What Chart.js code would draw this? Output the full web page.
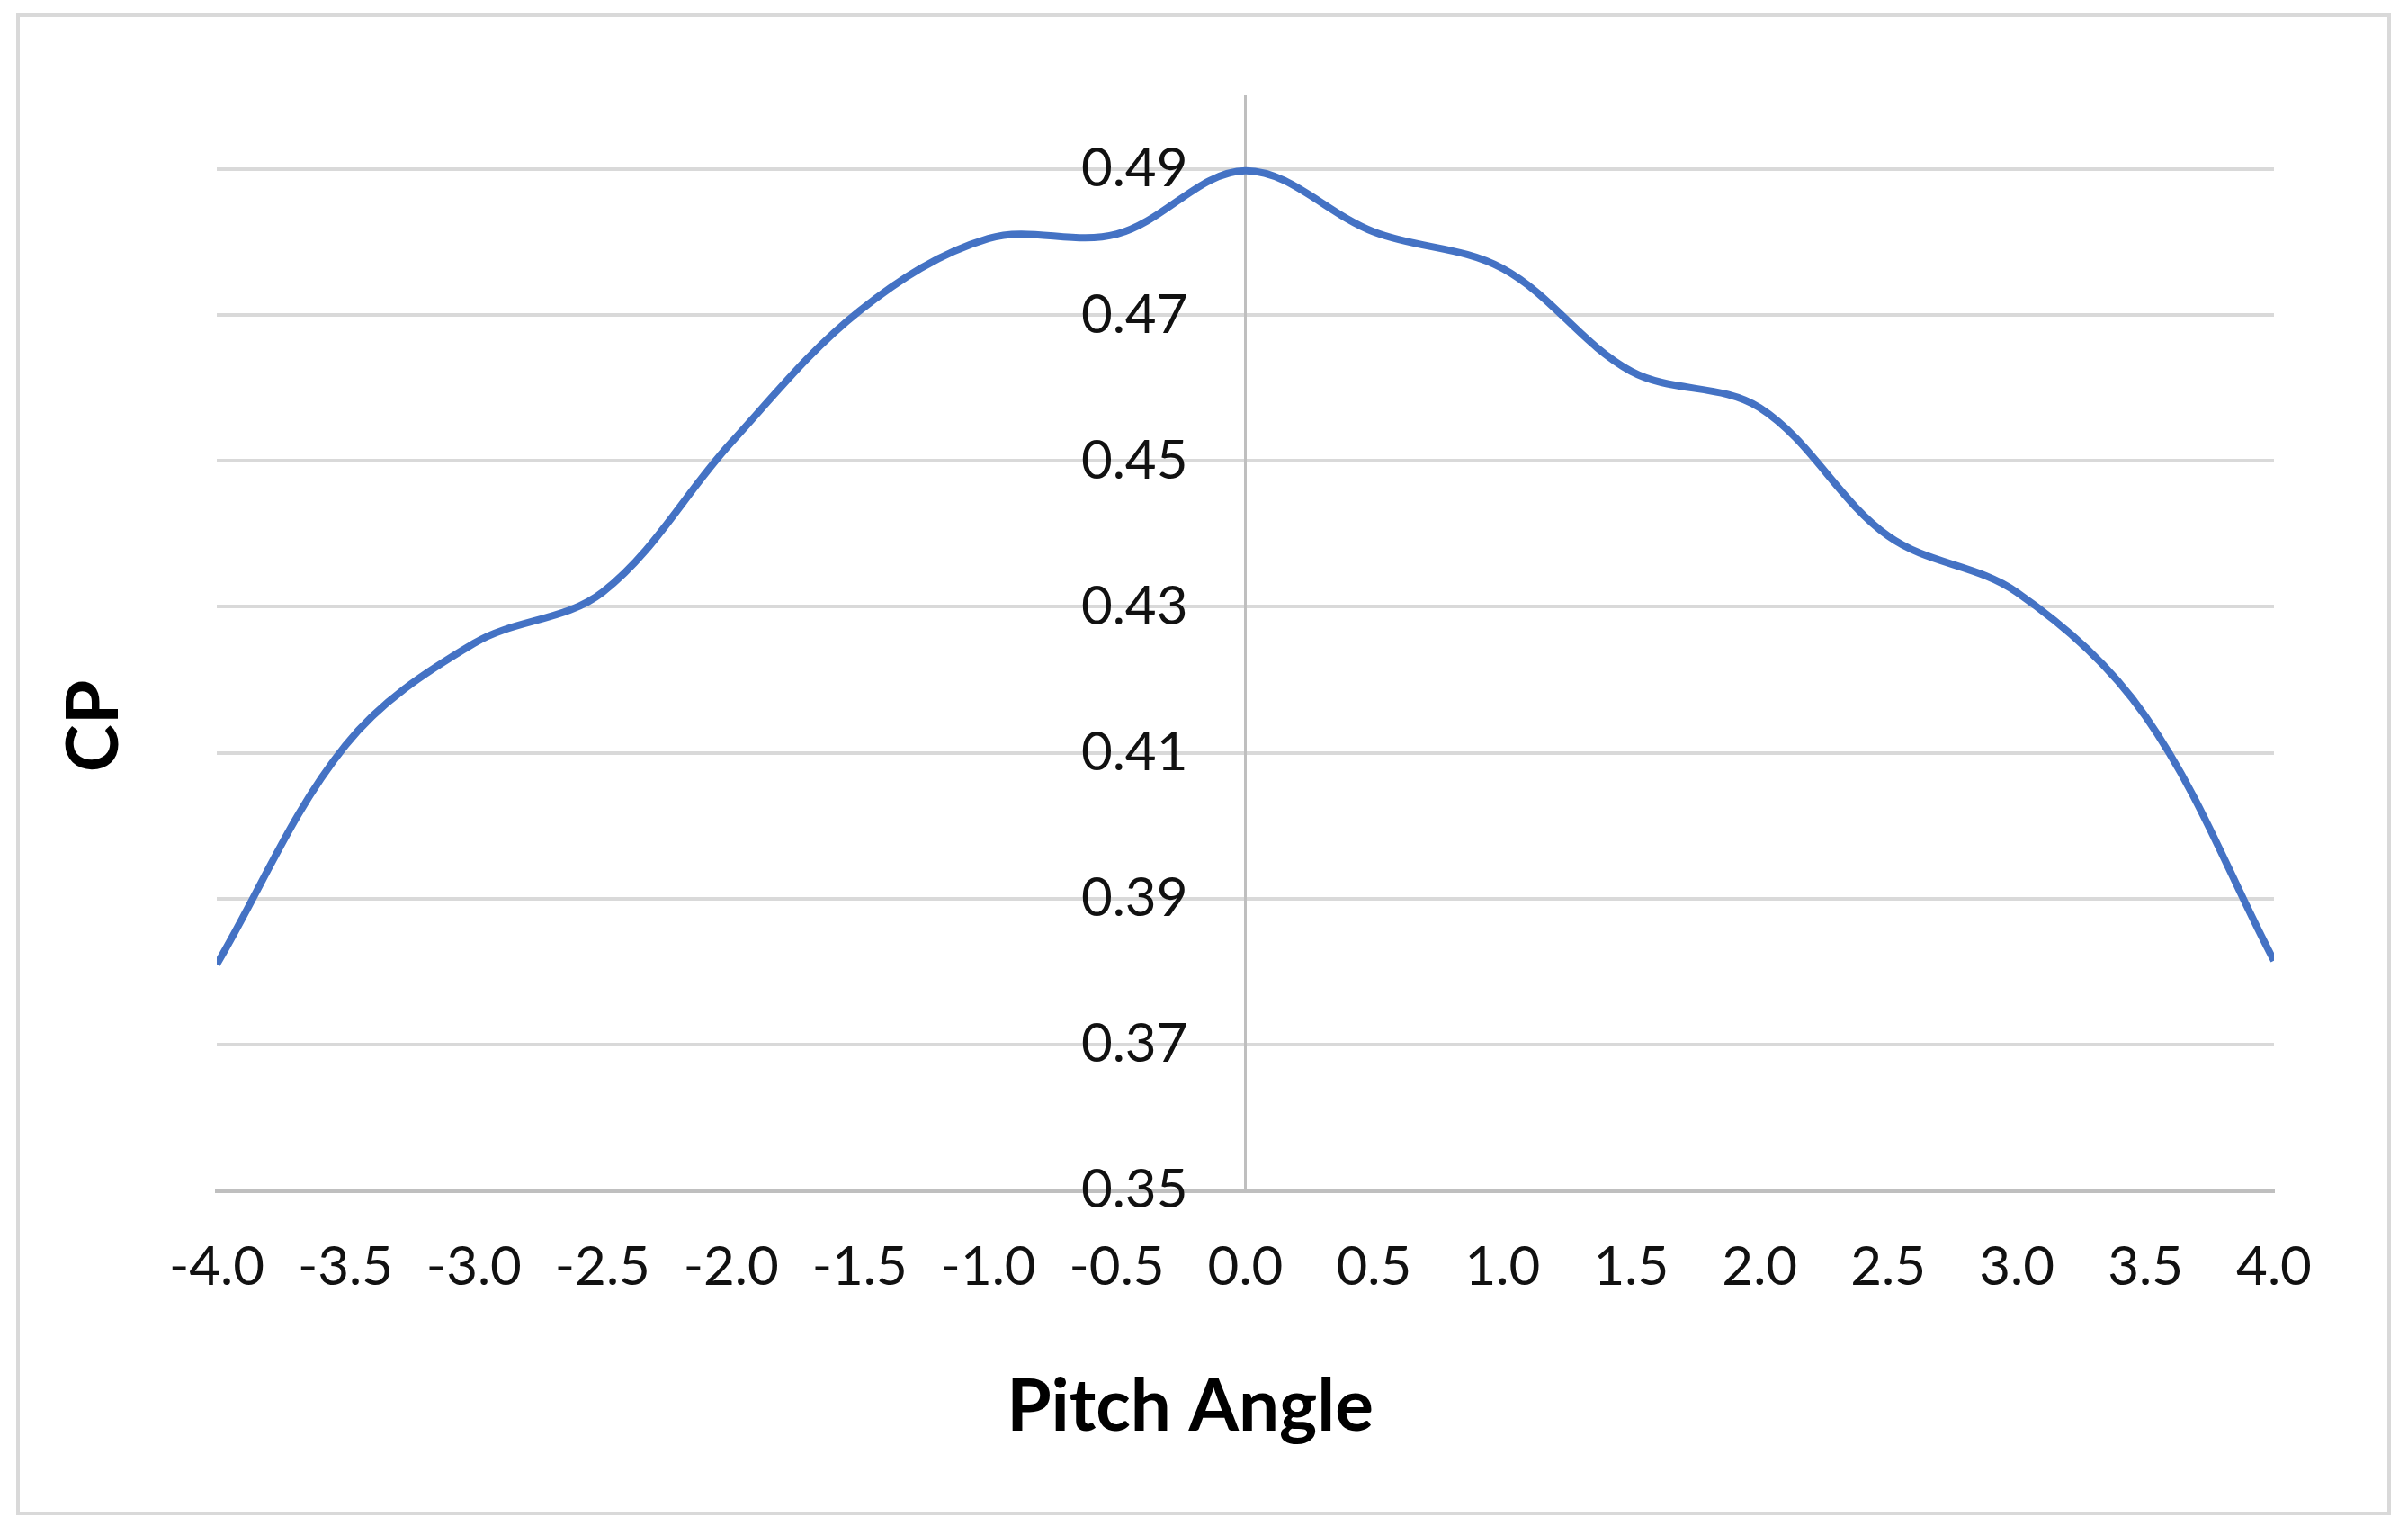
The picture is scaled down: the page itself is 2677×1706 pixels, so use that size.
<!DOCTYPE html>
<html>
<head>
<meta charset="utf-8">
<script src="https://cdn.jsdelivr.net/npm/chart.js@4.4.0/dist/chart.umd.min.js"></script>
<style>
  html, body { margin: 0; padding: 0; background: #fff; }
  #frame {
    position: absolute;
    left: 18px; top: 15px;
    width: 2632px; height: 1661px;
    border: 4px solid #d9d9d9;
    background: #fff;
  }
  #cpChart { display: block; }
</style>
</head>
<body>
<div id="frame">
  <canvas id="cpChart" width="2632" height="1661"></canvas>
</div>
<script>
// pitch angle (x) and power coefficient (y)
const pitchAngles = [-4.0, -3.5, -3.0, -2.5, -2.0, -1.5, -1.0, -0.5, 0.0, 0.5, 1.0, 1.5, 2.0, 2.5, 3.0, 3.5, 4.0];
const cpValues = [0.3810, 0.4110, 0.4250, 0.4320, 0.4525, 0.4706, 0.4805, 0.4811, 0.4898, 0.4814, 0.4764, 0.4623, 0.4573, 0.4397, 0.4320, 0.4150, 0.3815];

const xTicks = [-4.0, -3.5, -3.0, -2.5, -2.0, -1.5, -1.0, -0.5, 0.0, 0.5, 1.0, 1.5, 2.0, 2.5, 3.0, 3.5, 4.0];
const yTicks = [0.35, 0.37, 0.39, 0.41, 0.43, 0.45, 0.47, 0.49];

const xTitle = 'Pitch Angle';
const yTitle = 'CP';

const tickFont = { family: 'Lato', size: 60 };

// axis titles sit where Excel put them, not centred on the scales
const axisTitles = {
    id: 'axisTitles',
    afterDraw(chart) {
        const ctx = chart.ctx;
        ctx.save();
        ctx.fillStyle = '#000';
        ctx.font = 'bold 80px Lato';
        ctx.textAlign = 'center';
        ctx.textBaseline = 'middle';
        ctx.fillText(xTitle, 1301, 1545);
        ctx.translate(83, 788);
        ctx.rotate(-Math.PI / 2);
        ctx.fillText(yTitle, 0, 0);
        ctx.restore();
    }
};

const ctx = document.getElementById('cpChart');
const cpChart = new Chart(ctx, {
    type: 'line',
    data: {
        datasets: [{
            label: 'CP',
            data: pitchAngles.map((a, i) => ({ x: a, y: cpValues[i] })),
            borderColor: '#4472c4',
            borderWidth: 8,
            pointRadius: 0,
            tension: 0.35,
            fill: false
        }]
    },
    options: {
        responsive: false,
        animation: false,
        layout: {
            padding: { left: 219, right: 126, top: 88, bottom: 0 }
        },
        plugins: {
            legend: { display: false },
            tooltip: { enabled: false }
        },
        scales: {
            x: {
                type: 'linear',
                position: 'bottom',
                min: -4,
                max: 4,
                afterBuildTicks: s => { s.ticks = xTicks.map(v => ({ value: v })); },
                afterFit: s => { s.height = 357; },
                grid: { display: false, drawTicks: false },
                border: { display: true, color: '#bfbfbf', width: 5 },
                ticks: {
                    padding: 50,
                    maxRotation: 0,
                    autoSkip: false,
                    color: '#111',
                    font: tickFont,
                    callback: v => Number(v).toFixed(1)
                }
            },
            // value axis crossing at pitch angle 0: gridlines and the vertical line
            y: {
                type: 'linear',
                position: { x: 0 },
                min: 0.35,
                max: 0.50,
                afterBuildTicks: s => { s.ticks = yTicks.map(v => ({ value: v })); },
                grid: { color: '#d9d9d9', lineWidth: 4, drawTicks: false },
                border: { display: true, color: '#bfbfbf', width: 3 },
                ticks: { display: false }
            },
            // same scale again, only for the labels, which stand a little left of the line
            yLabels: {
                type: 'linear',
                position: { x: -0.224 },
                min: 0.35,
                max: 0.50,
                afterBuildTicks: s => { s.ticks = yTicks.map(v => ({ value: v })); },
                grid: { display: false, drawTicks: false },
                border: { display: false },
                ticks: {
                    color: '#111',
                    font: tickFont,
                    callback: v => Number(v).toFixed(2)
                }
            }
        }
    },
    plugins: [axisTitles]
});
</script>
</body>
</html>
